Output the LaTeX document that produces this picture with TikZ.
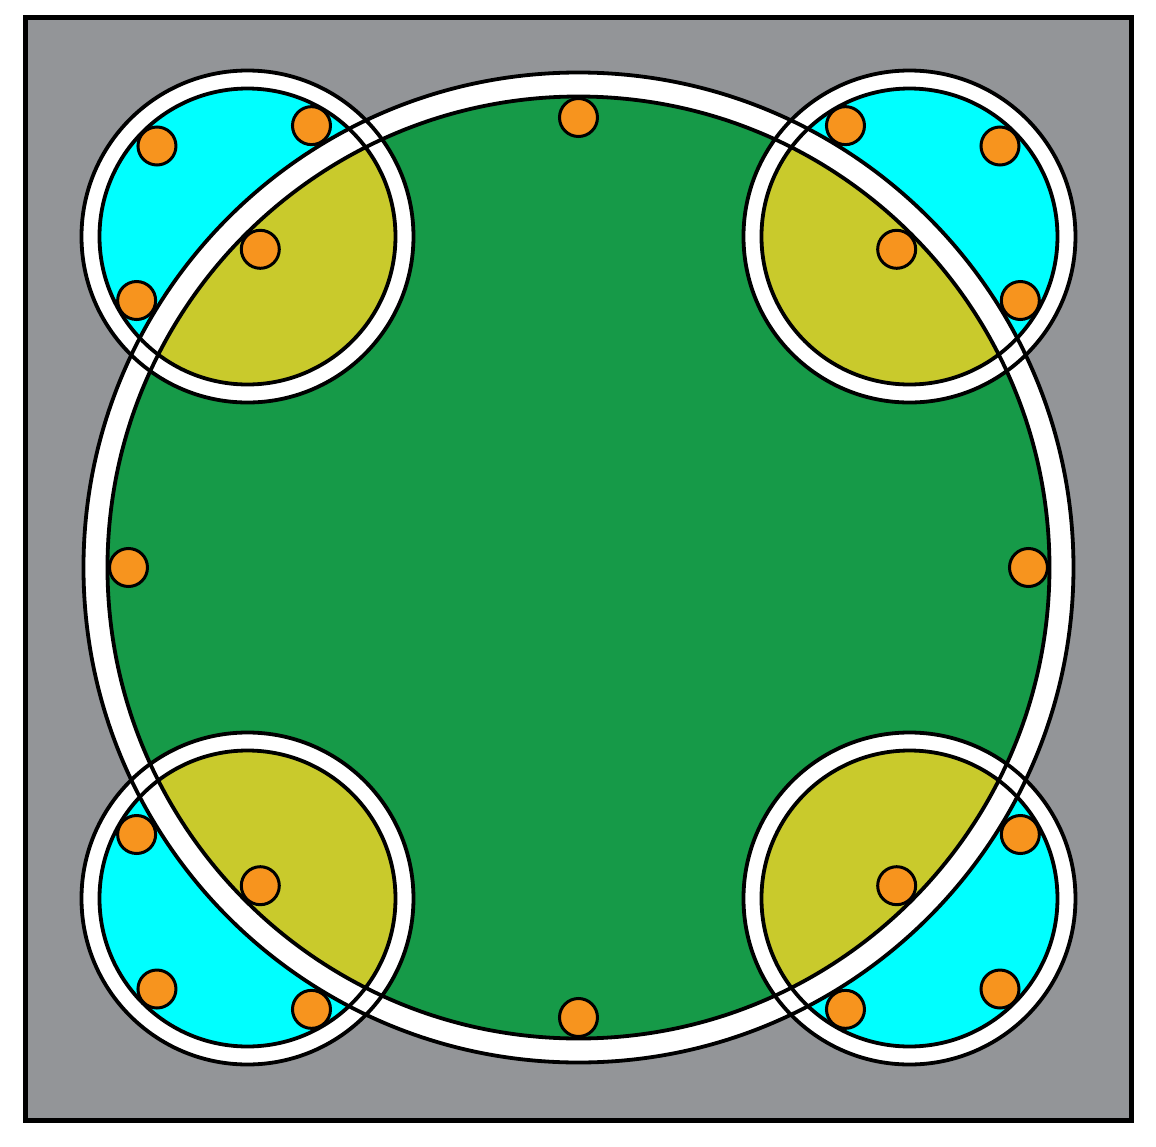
\documentclass[tikz,border=0pt]{standalone}
\usetikzlibrary{calc}
\definecolor{bggray}{RGB}{147,149,152}
\definecolor{fieldgreen}{RGB}{22,154,72}
\definecolor{lapyellow}{RGB}{201,202,44}
\definecolor{outcyan}{RGB}{0,255,255}
\definecolor{dotorange}{RGB}{247,148,30}
\begin{document}
\begin{tikzpicture}[x=0.01cm,y=0.01cm,
  ring/.style={draw=black,line width=0.038cm},
  dotstyle/.style={fill=dotorange,draw=black,line width=0.03cm}]
\useasboundingbox (-578.5,-579.5) rectangle (577.5,567.5);
\fill[white] (-578.5,-579.5) rectangle (577.5,567.5);
\draw[fill=bggray,line width=0.05cm] (-553,-552.5) rectangle (553.5,550);
\coordinate (C) at (0,0);
\coordinate (tl) at (-331,331);
\coordinate (tr) at (331,331);
\coordinate (bl) at (-331,-331);
\coordinate (br) at (331,-331);
% big ring and field
\fill[white] (C) circle (495);
\fill[fieldgreen] (C) circle (471);
% small circles
\foreach \p in {tl,tr,bl,br} \fill[white] (\p) circle (166);
\foreach \p in {tl,tr,bl,br} {
  \fill[outcyan] (\p) circle (148);
  \begin{scope}
    \clip (\p) circle (148);
    \fill[white] (C) circle (495);
    \fill[lapyellow] (C) circle (471);
  \end{scope}
}
% outlines
\draw[ring] (C) circle (495) (C) circle (471);
\foreach \p in {tl,tr,bl,br} \draw[ring] (\p) circle (166) (\p) circle (148);
% dots
\foreach \a in {0,90,180,270} \draw[dotstyle] (\a:450) circle (19);
\foreach \p/\a in {tl/135,tr/45,bl/225,br/315} {
  \draw[dotstyle] (\a:450) circle (19);
  \foreach \d in {-75,0,75} \draw[dotstyle] ($(\p)+(\a+\d:128)$) circle (19);
}
\end{tikzpicture}
\end{document}
